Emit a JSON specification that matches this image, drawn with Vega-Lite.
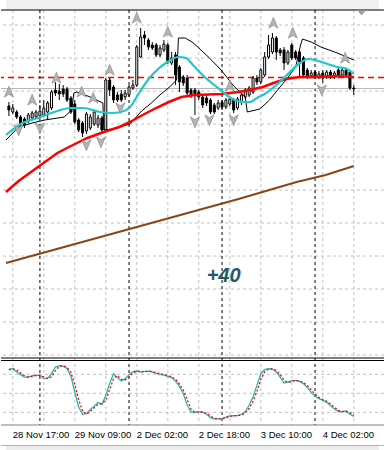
{
  "$schema": "https://vega.github.io/schema/vega-lite/v6.json",
  "width": 385,
  "height": 450,
  "autosize": {"type": "fit", "contains": "padding"},
  "padding": 0,
  "background": "white",
  "config": {"view": {"stroke": null}},
  "datasets": {
    "candles": [
      {"t":-1,"o":294,"c":290,"h":298,"l":284},{"t":0,"o":288,"c":292,"h":296,"l":286},{"t":1,"o":288,"c":283,"h":290,"l":281},{"t":2,"o":283,"c":276,"h":285,"l":274},{"t":3,"o":281,"c":275,"h":283,"l":272},{"t":4,"o":279,"c":285,"h":287,"l":277},{"t":5,"o":282,"c":287,"h":289,"l":280},{"t":6,"o":283,"c":288,"h":290,"l":281},{"t":7,"o":284,"c":289,"h":295,"l":282},{"t":8,"o":285,"c":292,"h":300,"l":283},{"t":9,"o":288,"c":297,"h":299,"l":280},{"t":10,"o":292,"c":308,"h":310,"l":290},{"t":11,"o":310,"c":307,"h":318,"l":304},{"t":12,"o":309,"c":306,"h":316,"l":300},{"t":13,"o":311,"c":306,"h":315,"l":303},{"t":14,"o":311,"c":300,"h":313,"l":298},{"t":15,"o":302,"c":288,"h":304,"l":286},{"t":16,"o":296,"c":278,"h":300,"l":276},{"t":17,"o":280,"c":270,"h":282,"l":268},{"t":18,"o":277,"c":267,"h":279,"l":263},{"t":19,"o":269,"c":286,"h":288,"l":266},{"t":20,"o":272,"c":283,"h":286,"l":270},{"t":21,"o":276,"c":288,"h":290,"l":274},{"t":22,"o":275,"c":282,"h":285,"l":272},{"t":23,"o":282,"c":270,"h":284,"l":266},{"t":24,"o":270,"c":320,"h":322,"l":268},{"t":25,"o":320,"c":310,"h":322,"l":304},{"t":26,"o":313,"c":300,"h":315,"l":297},{"t":27,"o":305,"c":300,"h":308,"l":298},{"t":28,"o":306,"c":300,"h":310,"l":298},{"t":29,"o":303,"c":307,"h":310,"l":300},{"t":30,"o":305,"c":313,"h":315,"l":303},{"t":31,"o":312,"c":315,"h":320,"l":310},{"t":32,"o":315,"c":353,"h":355,"l":313},{"t":33,"o":343,"c":363,"h":372,"l":342},{"t":34,"o":365,"c":362,"h":369,"l":355},{"t":35,"o":360,"c":353,"h":362,"l":350},{"t":36,"o":355,"c":352,"h":358,"l":350},{"t":37,"o":355,"c":345,"h":357,"l":343},{"t":38,"o":345,"c":352,"h":355,"l":343},{"t":39,"o":350,"c":356,"h":360,"l":348},{"t":40,"o":355,"c":338,"h":357,"l":336},{"t":41,"o":337,"c":342,"h":348,"l":335},{"t":42,"o":345,"c":325,"h":348,"l":315},{"t":43,"o":333,"c":318,"h":335,"l":308},{"t":44,"o":323,"c":317,"h":325,"l":314},{"t":45,"o":322,"c":307,"h":325,"l":305},{"t":46,"o":310,"c":305,"h":312,"l":302},{"t":47,"o":310,"c":305,"h":312,"l":285},{"t":48,"o":308,"c":303,"h":310,"l":300},{"t":49,"o":303,"c":295,"h":305,"l":292},{"t":50,"o":302,"c":297,"h":305,"l":294},{"t":51,"o":300,"c":288,"h":302,"l":286},{"t":52,"o":295,"c":288,"h":297,"l":286},{"t":53,"o":292,"c":297,"h":300,"l":290},{"t":54,"o":298,"c":293,"h":300,"l":290},{"t":55,"o":293,"c":300,"h":302,"l":291},{"t":56,"o":296,"c":301,"h":303,"l":294},{"t":57,"o":300,"c":290,"h":302,"l":287},{"t":58,"o":292,"c":301,"h":303,"l":290},{"t":59,"o":298,"c":305,"h":307,"l":295},{"t":60,"o":303,"c":310,"h":312,"l":301},{"t":61,"o":305,"c":312,"h":314,"l":303},{"t":62,"o":308,"c":322,"h":324,"l":306},{"t":63,"o":322,"c":318,"h":325,"l":315},{"t":64,"o":318,"c":330,"h":332,"l":316},{"t":65,"o":325,"c":343,"h":348,"l":323},{"t":66,"o":343,"c":355,"h":365,"l":341},{"t":67,"o":348,"c":362,"h":367,"l":346},{"t":68,"o":362,"c":348,"h":364,"l":340},{"t":69,"o":350,"c":347,"h":352,"l":344},{"t":70,"o":350,"c":337,"h":353,"l":330},{"t":71,"o":337,"c":348,"h":350,"l":335},{"t":72,"o":355,"c":342,"h":357,"l":340},{"t":73,"o":348,"c":342,"h":350,"l":340},{"t":74,"o":348,"c":338,"h":350,"l":323},{"t":75,"o":342,"c":325,"h":344,"l":323},{"t":76,"o":330,"c":323,"h":332,"l":321},{"t":77,"o":324,"c":327,"h":330,"l":322},{"t":78,"o":328,"c":323,"h":330,"l":321},{"t":79,"o":323,"c":326,"h":329,"l":321},{"t":80,"o":327,"c":322,"h":330,"l":317},{"t":81,"o":323,"c":328,"h":330,"l":321},{"t":82,"o":328,"c":323,"h":330,"l":321},{"t":83,"o":323,"c":327,"h":329,"l":321},{"t":84,"o":330,"c":325,"h":332,"l":323},{"t":85,"o":325,"c":330,"h":332,"l":323},{"t":86,"o":330,"c":325,"h":331,"l":323},{"t":87,"o":328,"c":312,"h":330,"l":310},{"t":88,"o":312,"c":311,"h":315,"l":305}
    ],
    "cyan": [
      {"t":-1.75,"v":265},{"t":2.5,"v":277},{"t":6.5,"v":282},{"t":10,"v":287},{"t":15,"v":292},{"t":18.25,"v":292},{"t":22.5,"v":288},{"t":25.75,"v":287},{"t":28.75,"v":289},{"t":30.25,"v":293},{"t":32.75,"v":308},{"t":35.25,"v":322},{"t":37.5,"v":331},{"t":39.5,"v":337},{"t":42.75,"v":343},{"t":44.75,"v":342},{"t":46.25,"v":336},{"t":49.5,"v":323},{"t":53,"v":312},{"t":56.25,"v":302},{"t":59.5,"v":298},{"t":61.25,"v":298},{"t":63,"v":302},{"t":65,"v":306},{"t":67.75,"v":314},{"t":70.75,"v":325},{"t":73.75,"v":336},{"t":76.25,"v":341},{"t":78.75,"v":339},{"t":81.25,"v":336},{"t":83.75,"v":333},{"t":86.25,"v":331},{"t":88,"v":326}
    ],
    "red": [
      {"t":-1.75,"v":208},{"t":1.5,"v":219},{"t":6.5,"v":233},{"t":11.5,"v":247},{"t":15,"v":254},{"t":19.25,"v":262},{"t":23.5,"v":268},{"t":27.5,"v":273},{"t":30.25,"v":278},{"t":33.5,"v":285},{"t":37,"v":292},{"t":40.25,"v":298},{"t":43.5,"v":303},{"t":47,"v":305},{"t":53.75,"v":306},{"t":58.25,"v":308},{"t":61.25,"v":310},{"t":64.5,"v":313},{"t":67.25,"v":317},{"t":70.5,"v":321},{"t":74,"v":323},{"t":79,"v":323},{"t":83.25,"v":324},{"t":88,"v":323}
    ],
    "brown": [
      {"t":-1.75,"v":137},{"t":13.25,"v":153},{"t":28.25,"v":169},{"t":43.25,"v":185},{"t":58.25,"v":201},{"t":73.25,"v":218},{"t":80.75,"v":225},{"t":88,"v":234}
    ],
    "sar": [
      {"t":-1.75,"v":260},{"t":1.5,"v":273},{"t":5,"v":277},{"t":8.25,"v":280},{"t":13.25,"v":283},{"t":15.25,"v":290},{"t":15.75,"v":307},{"t":16.5,"v":308},{"t":20,"v":303},{"t":23.25,"v":297},{"t":23.5,"v":270},{"t":25.75,"v":271},{"t":30.25,"v":276},{"t":33.25,"v":289},{"t":35.75,"v":297},{"t":38.25,"v":306},{"t":40.75,"v":314},{"t":42.25,"v":320},{"t":42.75,"v":362},{"t":44.5,"v":362},{"t":46.25,"v":358},{"t":47.75,"v":353},{"t":50.75,"v":342},{"t":53.75,"v":330},{"t":57,"v":314},{"t":60,"v":303},{"t":60.5,"v":288},{"t":63.75,"v":291},{"t":66.25,"v":300},{"t":68.75,"v":312},{"t":70.5,"v":320},{"t":73,"v":333},{"t":74.25,"v":355},{"t":74.75,"v":361},{"t":77,"v":358},{"t":79.5,"v":353},{"t":83.75,"v":347},{"t":88,"v":340}
    ],
    "fup": [
      {"t":-1,"v":308},{"t":5,"v":300},{"t":11.25,"v":322},{"t":17.75,"v":308},{"t":20.75,"v":302},{"t":25,"v":330},{"t":32,"v":382},{"t":40,"v":368},{"t":56,"v":314},{"t":67.25,"v":377},{"t":72.25,"v":367},{"t":85.75,"v":342}
    ],
    "fdown": [
      {"t":1.5,"v":270},{"t":7,"v":272},{"t":19,"v":255},{"t":22.75,"v":258},{"t":27.75,"v":292},{"t":47,"v":278},{"t":50.75,"v":280},{"t":57,"v":280},{"t":79.75,"v":310}
    ],
    "vgrid": [{"t":0},{"t":8},{"t":16},{"t":24},{"t":32},{"t":40},{"t":48},{"t":56},{"t":64},{"t":72},{"t":80},{"t":88}],
    "days": [{"t":7},{"t":30},{"t":54},{"t":78}],
    "hgrid": [{"v":375},{"v":342},{"v":309},{"v":276},{"v":243},{"v":210},{"v":177},{"v":144},{"v":111},{"v":78},{"v":45}],
    "ogrid": [{"o":20},{"o":50},{"o":80}],
    "levels": [{"v":322.5}],
    "xlabels": [{"t":0,"label":"28 Nov 17:00"},{"t":16,"label":"29 Nov 09:00"},{"t":32,"label":"2 Dec 02:00"},{"t":48,"label":"2 Dec 18:00"},{"t":64,"label":"3 Dec 10:00"},{"t":80,"label":"4 Dec 02:00"}],
    "osc": [
      {"t":-1,"k":88,"d":87},{"t":0,"k":89,"d":88.5},{"t":1,"k":83.6,"d":87},{"t":2,"k":79.5,"d":82},{"t":3,"k":75.7,"d":78},{"t":4,"k":75.2,"d":76},{"t":5,"k":78,"d":76.5},{"t":6,"k":78.4,"d":78},{"t":7,"k":78.4,"d":78.5},{"t":8,"k":73.2,"d":76},{"t":9,"k":73.7,"d":73.5},{"t":10,"k":81,"d":76},{"t":11,"k":91.5,"d":86},{"t":12,"k":93.7,"d":92.5},{"t":13,"k":93,"d":93.5},{"t":14,"k":89.4,"d":91},{"t":15,"k":76.8,"d":83},{"t":16,"k":52,"d":64},{"t":17,"k":28.4,"d":40},{"t":18,"k":16.9,"d":22},{"t":19,"k":18,"d":17},{"t":20,"k":24.3,"d":21},{"t":21,"k":29.5,"d":27},{"t":22,"k":35.8,"d":32.5},{"t":23,"k":32.2,"d":34},{"t":24,"k":46.8,"d":39},{"t":25,"k":65.3,"d":56},{"t":26,"k":81,"d":73},{"t":27,"k":74.8,"d":78},{"t":28,"k":69.4,"d":72},{"t":29,"k":73.2,"d":71},{"t":30,"k":79.5,"d":76},{"t":31,"k":84.2,"d":82},{"t":32,"k":85.2,"d":85},{"t":33,"k":83.6,"d":84.5},{"t":34,"k":84.7,"d":84},{"t":35,"k":85.2,"d":85},{"t":36,"k":83.6,"d":84.5},{"t":37,"k":81.5,"d":82.5},{"t":38,"k":80,"d":81},{"t":39,"k":78.9,"d":79.5},{"t":40,"k":76.8,"d":78},{"t":41,"k":74.8,"d":76},{"t":42,"k":69.4,"d":72},{"t":43,"k":61,"d":65},{"t":44,"k":49.5,"d":55},{"t":45,"k":31.1,"d":40},{"t":46,"k":20.5,"d":25},{"t":47,"k":19.6,"d":20},{"t":48,"k":21.1,"d":20.5},{"t":49,"k":20,"d":20.5},{"t":50,"k":16.9,"d":18.5},{"t":51,"k":11.7,"d":14},{"t":52,"k":9.5,"d":10.5},{"t":53,"k":9.5,"d":9.5},{"t":54,"k":10.1,"d":9.8},{"t":55,"k":12.6,"d":11.3},{"t":56,"k":14.2,"d":13.4},{"t":57,"k":14.8,"d":14.5},{"t":58,"k":14.8,"d":14.8},{"t":59,"k":16.9,"d":15.8},{"t":60,"k":21.1,"d":19},{"t":61,"k":31.1,"d":26},{"t":62,"k":44.2,"d":37.5},{"t":63,"k":62.6,"d":53},{"t":64,"k":81,"d":72},{"t":65,"k":87.4,"d":84},{"t":66,"k":89,"d":88.2},{"t":67,"k":88.3,"d":88.6},{"t":68,"k":83.6,"d":86},{"t":69,"k":75.7,"d":79.6},{"t":70,"k":66.2,"d":71},{"t":71,"k":67.8,"d":67},{"t":72,"k":70,"d":69},{"t":73,"k":70.5,"d":70.2},{"t":74,"k":68.9,"d":69.7},{"t":75,"k":65.3,"d":67},{"t":76,"k":59,"d":62},{"t":77,"k":52,"d":55.5},{"t":78,"k":45.3,"d":48.6},{"t":79,"k":41.6,"d":43.5},{"t":80,"k":39,"d":40.3},{"t":81,"k":35.8,"d":37.4},{"t":82,"k":30.6,"d":33.2},{"t":83,"k":25.2,"d":28},{"t":84,"k":21.1,"d":23},{"t":85,"k":21.1,"d":21.1},{"t":86,"k":22,"d":21.5},{"t":87,"k":16.9,"d":19.5},{"t":88,"k":13.7,"d":15.3}
    ],
    "note": [{"t":54.4,"v":124,"label":"+40"}],
    "shift": [{"t":90,"v":387}],
    "one": [{}]
  },
  "layer": [
    {
      "layer": [
        {
          "data": {"name": "one"},
          "mark": {"type": "rect", "fill": "#f0f0f0"},
          "encoding": {
            "x": {"datum": -1.75, "type": "quantitative", "scale": {"domain": [-1.75, 94.5], "nice": false, "zero": false}, "axis": null},
            "x2": {"datum": 94.5},
            "y": {"datum": 390, "type": "quantitative", "scale": {"domain": [-50, 400], "nice": false, "zero": false}, "axis": null},
            "y2": {"datum": 400}
          }
        },
        {
          "data": {"name": "one"},
          "mark": {"type": "rect", "fill": "#ececec"},
          "encoding": {
            "x": {"datum": -1.75, "type": "quantitative", "scale": {"domain": [-1.75, 94.5], "nice": false, "zero": false}, "axis": null},
            "x2": {"datum": 94.5},
            "y": {"datum": -46, "type": "quantitative", "scale": {"domain": [-50, 400], "nice": false, "zero": false}, "axis": null},
            "y2": {"datum": -50}
          }
        },
        {
          "data": {"name": "one"},
          "mark": {"type": "rule", "stroke": "#b4b4b4", "strokeWidth": 1},
          "encoding": {"y": {"datum": -45.5, "type": "quantitative", "scale": {"domain": [-50, 400], "nice": false, "zero": false}, "axis": null}}
        },
        {
          "data": {"name": "hgrid"},
          "mark": {"type": "rule", "stroke": "#c0c0c0", "strokeWidth": 1, "strokeDash": [3, 3]},
          "encoding": {"y": {"field": "v", "type": "quantitative", "scale": {"domain": [-50, 400], "nice": false, "zero": false}, "axis": null}}
        },
        {
          "data": {"name": "vgrid"},
          "mark": {"type": "rule", "stroke": "#c0c0c0", "strokeWidth": 1, "strokeDash": [3, 3]},
          "encoding": {
            "x": {"field": "t", "type": "quantitative", "scale": {"domain": [-1.75, 94.5], "nice": false, "zero": false}, "axis": null},
            "y": {"datum": 390, "type": "quantitative", "scale": {"domain": [-50, 400], "nice": false, "zero": false}, "axis": null},
            "y2": {"datum": -25}
          }
        },
        {
          "data": {"name": "days"},
          "mark": {"type": "rule", "stroke": "#000000", "strokeWidth": 1, "strokeDash": [3, 3]},
          "encoding": {
            "x": {"field": "t", "type": "quantitative", "scale": {"domain": [-1.75, 94.5], "nice": false, "zero": false}, "axis": null},
            "y": {"datum": 390, "type": "quantitative", "scale": {"domain": [-50, 400], "nice": false, "zero": false}, "axis": null},
            "y2": {"datum": -25}
          }
        },
        {
          "data": {"name": "one"},
          "mark": {"type": "rule", "stroke": "#000000", "strokeWidth": 1},
          "encoding": {"y": {"datum": 390, "type": "quantitative", "scale": {"domain": [-50, 400], "nice": false, "zero": false}, "axis": null}}
        },
        {
          "data": {"name": "one"},
          "mark": {"type": "rule", "stroke": "#000000", "strokeWidth": 1},
          "encoding": {"y": {"datum": 42, "type": "quantitative", "scale": {"domain": [-50, 400], "nice": false, "zero": false}, "axis": null}}
        },
        {
          "data": {"name": "one"},
          "mark": {"type": "rule", "stroke": "#000000", "strokeWidth": 1},
          "encoding": {"y": {"datum": 39.5, "type": "quantitative", "scale": {"domain": [-50, 400], "nice": false, "zero": false}, "axis": null}}
        },
        {
          "data": {"name": "one"},
          "mark": {"type": "rule", "stroke": "#808080", "strokeWidth": 1},
          "encoding": {"y": {"datum": -25, "type": "quantitative", "scale": {"domain": [-50, 400], "nice": false, "zero": false}, "axis": null}}
        },
        {
          "data": {"name": "one"},
          "mark": {"type": "rule", "stroke": "#b8b8b8", "strokeWidth": 1},
          "encoding": {"y": {"datum": 311.5, "type": "quantitative", "scale": {"domain": [-50, 400], "nice": false, "zero": false}, "axis": null}}
        },
        {
          "data": {"name": "levels"},
          "mark": {"type": "rule", "strokeWidth": 1.5, "strokeDash": [6, 4], "opacity": 1},
          "encoding": {
            "y": {"field": "v", "type": "quantitative", "scale": {"domain": [-50, 400], "nice": false, "zero": false}, "axis": null},
            "color": {"value": "#ff0000"}
          }
        },
        {
          "data": {"name": "brown"},
          "mark": {"type": "line", "stroke": "#8b4513", "strokeWidth": 2},
          "encoding": {
            "x": {"field": "t", "type": "quantitative", "scale": {"domain": [-1.75, 94.5], "nice": false, "zero": false}, "axis": null},
            "y": {"field": "v", "type": "quantitative", "scale": {"domain": [-50, 400], "nice": false, "zero": false}, "axis": null}
          }
        },
        {
          "data": {"name": "candles"},
          "mark": {"type": "rule", "stroke": "#000000", "strokeWidth": 1},
          "encoding": {
            "x": {"field": "t", "type": "quantitative", "scale": {"domain": [-1.75, 94.5], "nice": false, "zero": false}, "axis": null},
            "y": {"field": "l", "type": "quantitative", "scale": {"domain": [-50, 400], "nice": false, "zero": false}, "axis": null},
            "y2": {"field": "h"}
          }
        },
        {
          "data": {"name": "candles"},
          "mark": {"type": "bar", "size": 2, "stroke": "#000000", "strokeWidth": 1},
          "encoding": {
            "x": {"field": "t", "type": "quantitative", "scale": {"domain": [-1.75, 94.5], "nice": false, "zero": false}, "axis": null},
            "y": {"field": "o", "type": "quantitative", "scale": {"domain": [-50, 400], "nice": false, "zero": false}, "axis": null},
            "y2": {"field": "c"},
            "fill": {"condition": {"test": "datum.c >= datum.o", "value": "#ffffff"}, "value": "#000000"}
          }
        },
        {
          "data": {"name": "sar"},
          "mark": {"type": "line", "stroke": "#000000", "strokeWidth": 1},
          "encoding": {
            "x": {"field": "t", "type": "quantitative", "scale": {"domain": [-1.75, 94.5], "nice": false, "zero": false}, "axis": null},
            "y": {"field": "v", "type": "quantitative", "scale": {"domain": [-50, 400], "nice": false, "zero": false}, "axis": null}
          }
        },
        {
          "data": {"name": "red"},
          "mark": {"type": "line", "stroke": "#ff0000", "strokeWidth": 2.5},
          "encoding": {
            "x": {"field": "t", "type": "quantitative", "scale": {"domain": [-1.75, 94.5], "nice": false, "zero": false}, "axis": null},
            "y": {"field": "v", "type": "quantitative", "scale": {"domain": [-50, 400], "nice": false, "zero": false}, "axis": null}
          }
        },
        {
          "data": {"name": "cyan"},
          "mark": {"type": "line", "stroke": "#20c8c8", "strokeWidth": 2.2, "interpolate": "monotone"},
          "encoding": {
            "x": {"field": "t", "type": "quantitative", "scale": {"domain": [-1.75, 94.5], "nice": false, "zero": false}, "axis": null},
            "y": {"field": "v", "type": "quantitative", "scale": {"domain": [-50, 400], "nice": false, "zero": false}, "axis": null}
          }
        },
        {
          "data": {"name": "fup"},
          "mark": {"type": "point", "shape": "M0,-1L0.8,0.9L0,0.4L-0.8,0.9Z", "filled": true, "fill": "#b4b4b4", "stroke": "#808080", "strokeWidth": 0.6, "size": 130, "opacity": 1},
          "encoding": {
            "x": {"field": "t", "type": "quantitative", "scale": {"domain": [-1.75, 94.5], "nice": false, "zero": false}, "axis": null},
            "y": {"field": "v", "type": "quantitative", "scale": {"domain": [-50, 400], "nice": false, "zero": false}, "axis": null}
          }
        },
        {
          "data": {"name": "fdown"},
          "mark": {"type": "point", "shape": "M0,1L0.8,-0.9L0,-0.4L-0.8,-0.9Z", "filled": true, "fill": "#b4b4b4", "stroke": "#808080", "strokeWidth": 0.6, "size": 130, "opacity": 1},
          "encoding": {
            "x": {"field": "t", "type": "quantitative", "scale": {"domain": [-1.75, 94.5], "nice": false, "zero": false}, "axis": null},
            "y": {"field": "v", "type": "quantitative", "scale": {"domain": [-50, 400], "nice": false, "zero": false}, "axis": null}
          }
        },
        {
          "data": {"name": "shift"},
          "mark": {"type": "point", "shape": "M-1,-0.6L1,-0.6L0,0.6Z", "filled": true, "fill": "#a0a0a0", "size": 70, "opacity": 1},
          "encoding": {
            "x": {"field": "t", "type": "quantitative", "scale": {"domain": [-1.75, 94.5], "nice": false, "zero": false}, "axis": null},
            "y": {"field": "v", "type": "quantitative", "scale": {"domain": [-50, 400], "nice": false, "zero": false}, "axis": null}
          }
        },
        {
          "data": {"name": "note"},
          "mark": {"type": "text", "font": "Liberation Sans", "fontSize": 20, "fontWeight": "bold", "fontStyle": "italic", "fill": "#1e5a6a", "align": "center", "baseline": "middle"},
          "encoding": {
            "x": {"field": "t", "type": "quantitative", "scale": {"domain": [-1.75, 94.5], "nice": false, "zero": false}, "axis": null},
            "y": {"field": "v", "type": "quantitative", "scale": {"domain": [-50, 400], "nice": false, "zero": false}, "axis": null},
            "text": {"field": "label"}
          }
        }
      ]
    },
    {
      "layer": [
        {
          "data": {"name": "ogrid"},
          "mark": {"type": "rule", "stroke": "#c0c0c0", "strokeWidth": 1, "strokeDash": [3, 3]},
          "encoding": {"y": {"field": "o", "type": "quantitative", "scale": {"domain": [-39.5, 671.1], "nice": false, "zero": false}, "axis": null}}
        },
        {
          "data": {"name": "osc"},
          "mark": {"type": "line", "stroke": "#20b8b8", "strokeWidth": 1.3},
          "encoding": {
            "x": {"field": "t", "type": "quantitative", "scale": {"domain": [-1.75, 94.5], "nice": false, "zero": false}, "axis": null},
            "y": {"field": "k", "type": "quantitative", "scale": {"domain": [-39.5, 671.1], "nice": false, "zero": false}, "axis": null}
          }
        },
        {
          "data": {"name": "osc"},
          "mark": {"type": "line", "stroke": "#ff0000", "strokeWidth": 1.3, "strokeDash": [2, 2]},
          "encoding": {
            "x": {"field": "t", "type": "quantitative", "scale": {"domain": [-1.75, 94.5], "nice": false, "zero": false}, "axis": null},
            "y": {"field": "d", "type": "quantitative", "scale": {"domain": [-39.5, 671.1], "nice": false, "zero": false}, "axis": null}
          }
        },
        {
          "data": {"name": "xlabels"},
          "mark": {"type": "text", "font": "Liberation Sans", "fontSize": 9.5, "fill": "#000000", "align": "left", "baseline": "top"},
          "encoding": {
            "x": {"field": "t", "type": "quantitative", "scale": {"domain": [-1.75, 94.5], "nice": false, "zero": false}, "axis": null},
            "y": {"datum": -8.5, "type": "quantitative", "scale": {"domain": [-39.5, 671.1], "nice": false, "zero": false}, "axis": null},
            "text": {"field": "label"}
          }
        }
      ]
    }
  ],
  "resolve": {"scale": {"y": "independent"}}
}
